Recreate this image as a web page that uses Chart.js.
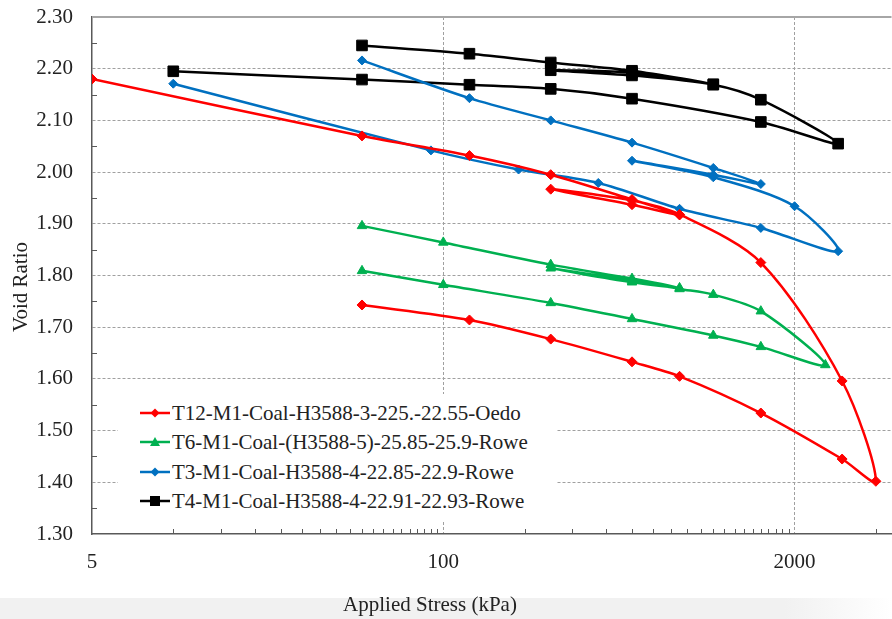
<!DOCTYPE html>
<html>
<head>
<meta charset="utf-8">
<script src="https://cdn.jsdelivr.net/npm/chart.js@4.4.0/dist/chart.umd.min.js"></script>
<style>
  html, body { margin: 0; padding: 0; background: #fff; }
  #wrap { position: relative; width: 892px; height: 619px; overflow: hidden; }
  #band { position: absolute; left: 0; top: 598px; width: 892px; height: 21px;
          background: linear-gradient(to right, #f1f1f1 0%, #f1f1f1 88%, #fff 100%); }
  #chart { position: absolute; left: 0; top: 0; }
  #legend { position: absolute; left: 118px; top: 394px; width: 439px; height: 127px; background: #fff;
            font-family: 'Liberation Serif', 'Times New Roman', serif; font-size: 21px; color: #222; }
  .row { position: absolute; left: 22px; height: 24px; display: flex; align-items: center; white-space: nowrap; }
  .row svg { margin-right: 2px; }
</style>
</head>
<body>
<div id="wrap">
  <div id="band"></div>
  <canvas id="chart" width="900" height="619"></canvas>
  <div id="legend"></div>
</div>
<script>
// applied stress (kPa) and void ratio, in test order
const t12Stress = [5, 50, 125, 250, 500, 750, 500, 250, 500, 750, 1500, 3000, 4000, 3000, 1500, 750, 500, 250, 125, 50];
const t12Void   = [2.180, 2.070, 2.032, 1.995, 1.947, 1.917, 1.937, 1.967, 1.945, 1.918, 1.825, 1.596, 1.402, 1.445, 1.534, 1.605, 1.633, 1.677, 1.714, 1.743];

const t6Stress = [50, 100, 250, 500, 750, 500, 250, 500, 750, 1000, 1500, 2600, 1500, 1000, 500, 250, 100, 50];
const t6Void   = [1.896, 1.864, 1.821, 1.794, 1.776, 1.787, 1.814, 1.790, 1.774, 1.763, 1.731, 1.627, 1.662, 1.684, 1.716, 1.747, 1.782, 1.809];

const t3Stress = [10, 90, 190, 375, 750, 1500, 2900, 2000, 1000, 500, 1000, 1500, 1000, 500, 250, 125, 50];
const t3Void   = [2.171, 2.042, 2.005, 1.979, 1.929, 1.892, 1.847, 1.934, 1.990, 2.022, 1.995, 1.977, 2.008, 2.057, 2.100, 2.143, 2.216];

const t4Stress = [10, 50, 125, 250, 500, 1500, 2900, 1500, 1000, 500, 250, 500, 1000, 500, 250, 125, 50];
const t4Void   = [2.195, 2.179, 2.169, 2.161, 2.142, 2.097, 2.055, 2.140, 2.169, 2.187, 2.197, 2.192, 2.170, 2.196, 2.212, 2.229, 2.245];

const seriesNames = [
    'T12-M1-Coal-H3588-3-225.-22.55-Oedo',
    'T6-M1-Coal-(H3588-5)-25.85-25.9-Rowe',
    'T3-M1-Coal-H3588-4-22.85-22.9-Rowe',
    'T4-M1-Coal-H3588-4-22.91-22.93-Rowe'
];
const xTickValues = [5, 100, 2000];
const yTickMin = 1.3;
const yTickMax = 2.3;

const seriesColors = ['#ff0000', '#00b050', '#0070c0', '#000000'];
const seriesMarkers = ['rectRot', 'triangle', 'rectRot', 'rect'];
const markerSizes = [5, 5.5, 4.5, 7.5];
const serif = "'Liberation Serif', 'Times New Roman', serif";
const xMax = 4571;

function toPoints(xs, ys) {
    return xs.map((x, i) => ({ x: x, y: ys[i] }));
}

// minor ticks of the base-20 log axis, and half steps on the y axis
const xMinorTicks = [];
xTickValues.forEach(m => {
    for (let k = 2; k < 20; k++) {
        if (m * k < xMax) xMinorTicks.push(m * k);
    }
});
const yMinorTicks = [];
for (let i = 0; i < 10; i++) yMinorTicks.push(+(yTickMin + 0.05 + i * 0.1).toFixed(2));

const allSeries = [[t12Stress, t12Void], [t6Stress, t6Void], [t3Stress, t3Void], [t4Stress, t4Void]];
const datasets = allSeries.map((s, i) => ({
    label: seriesNames[i],
    data: toPoints(s[0], s[1]),
    borderColor: seriesColors[i],
    backgroundColor: seriesColors[i],
    borderWidth: 2.5,
    pointStyle: seriesMarkers[i],
    pointRadius: markerSizes[i],
    pointBorderWidth: 1,
    tension: 0.3
}));

const decorPlugin = {
    id: 'decor',
    beforeDatasetsDraw(chart) {
        const ctx = chart.ctx;
        const area = chart.chartArea;
        const xs = chart.scales.x, ys = chart.scales.y;
        ctx.save();
        ctx.strokeStyle = '#a6a6a6';
        ctx.lineWidth = 2;
        ctx.beginPath();
        ctx.moveTo(area.left, area.top);
        ctx.lineTo(area.right, area.top);
        ctx.stroke();

        ctx.strokeStyle = '#595959';
        ctx.lineWidth = 1;
        ctx.beginPath();
        xMinorTicks.forEach(v => {
            const px = Math.round(xs.getPixelForValue(v)) + 0.5;
            ctx.moveTo(px, area.bottom);
            ctx.lineTo(px, area.bottom - 5);
        });
        yMinorTicks.forEach(v => {
            const py = Math.round(ys.getPixelForValue(v)) + 0.5;
            ctx.moveTo(area.left, py);
            ctx.lineTo(area.left + 5, py);
        });
        ctx.stroke();
        ctx.restore();
    },
    afterDraw(chart) {
        const ctx = chart.ctx;
        ctx.save();
        ctx.fillStyle = '#222';
        ctx.font = '21px ' + serif;
        ctx.textAlign = 'center';
        ctx.textBaseline = 'middle';
        ctx.fillText('Applied Stress (kPa)', 430, 605);
        ctx.translate(21, 287);
        ctx.rotate(-Math.PI / 2);
        ctx.fillText('Void Ratio', 0, 0);
        ctx.restore();
    }
};

new Chart(document.getElementById('chart'), {
    type: 'line',
    data: { datasets: datasets },
    options: {
        responsive: false,
        animation: false,
        devicePixelRatio: 1,
        layout: { padding: { top: 17, right: 8, bottom: 0, left: 0 } },
        plugins: { legend: { display: false }, tooltip: { enabled: false } },
        scales: {
            x: {
                type: 'logarithmic',
                min: 5,
                max: xMax,
                afterBuildTicks: scale => { scale.ticks = xTickValues.map(v => ({ value: v })); },
                afterFit: scale => {
                    scale.height = 85;
                    scale.paddingLeft = 0;
                    scale.paddingRight = 0;
                },
                ticks: {
                    autoSkip: false,
                    maxRotation: 0,
                    padding: 16,
                    color: '#222',
                    font: { family: serif, size: 21 },
                    callback: v => String(v)
                },
                grid: {
                    drawTicks: false,
                    color: c => (c.tick && c.tick.value === 5) ? 'rgba(0,0,0,0)' : '#a0a0a0',
                    lineWidth: 1
                },
                border: { display: true, color: '#595959', width: 1.5, dash: [3, 2] }
            },
            y: {
                min: yTickMin,
                max: yTickMax,
                afterFit: scale => {
                    scale.width = 92;
                    scale.paddingTop = 0;
                    scale.paddingBottom = 0;
                },
                ticks: {
                    stepSize: 0.1,
                    padding: 19,
                    color: '#222',
                    font: { family: serif, size: 21 },
                    callback: v => v.toFixed(2)
                },
                grid: {
                    drawTicks: false,
                    color: c => (c.tick && (Math.abs(c.tick.value - yTickMin) < 1e-6 || Math.abs(c.tick.value - yTickMax) < 1e-6)) ? 'rgba(0,0,0,0)' : '#a0a0a0',
                    lineWidth: 1
                },
                border: { display: true, color: '#595959', width: 1.5, dash: [3, 2] }
            }
        }
    },
    plugins: [decorPlugin]
});

// legend box, drawn as html over the plot
const legendEl = document.getElementById('legend');
const rowTops = [7, 36, 66, 95];
function markerSvg(i) {
    const c = seriesColors[i];
    let shape = '';
    if (seriesMarkers[i] === 'rectRot') shape = `<polygon points="15,2.5 19.5,7 15,11.5 10.5,7" fill="${c}"/>`;
    else if (seriesMarkers[i] === 'triangle') shape = `<polygon points="15,2 20,11 10,11" fill="${c}"/>`;
    else shape = `<rect x="10" y="2" width="10" height="10" fill="${c}"/>`;
    return `<svg width="30" height="14" viewBox="0 0 30 14"><line x1="0" y1="7" x2="30" y2="7" stroke="${c}" stroke-width="2.5"/>${shape}</svg>`;
}
seriesNames.forEach((name, i) => {
    const row = document.createElement('div');
    row.className = 'row';
    row.style.top = rowTops[i] + 'px';
    row.innerHTML = markerSvg(i) + '<span></span>';
    row.querySelector('span').textContent = name;
    legendEl.appendChild(row);
});
</script>
</body>
</html>
